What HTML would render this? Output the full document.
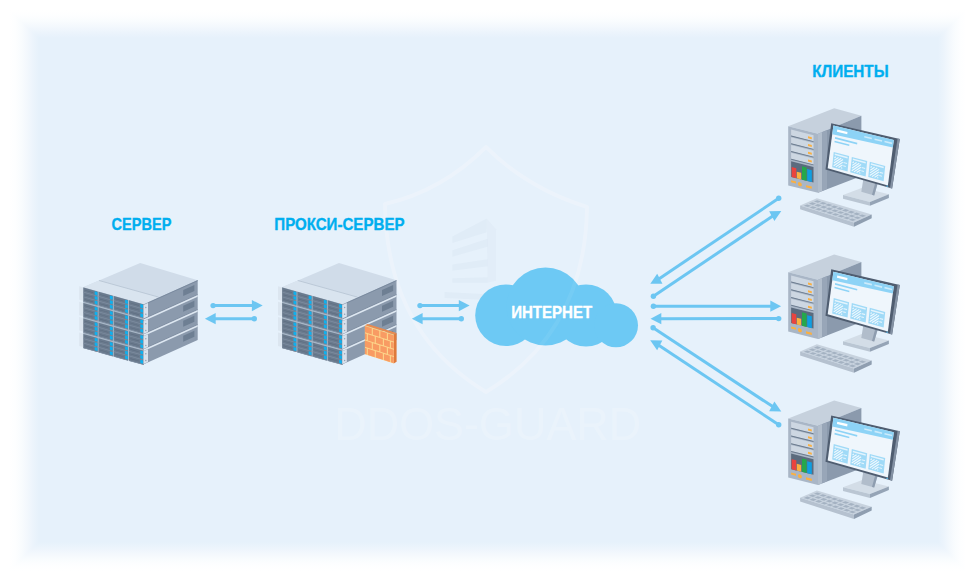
<!DOCTYPE html>
<html lang="ru"><head><meta charset="utf-8"><title>Прокси-сервер</title>
<style>html,body{margin:0;padding:0;background:#fff;}body{width:980px;height:582px;overflow:hidden;font-family:"Liberation Sans",sans-serif;}svg{display:block;}</style>
</head><body>
<svg width="980" height="582" viewBox="0 0 980 582">
<defs>
<linearGradient id="gl" x1="0" x2="1" y1="0" y2="0"><stop offset="0" stop-color="#FFFFFF"/><stop offset="0.2" stop-color="#FDFEFF"/><stop offset="0.4" stop-color="#F9FCFE"/><stop offset="0.6" stop-color="#F3F8FD"/><stop offset="0.8" stop-color="#ECF4FC"/><stop offset="1" stop-color="#E6F1FB"/></linearGradient>
<linearGradient id="gr" x1="1" x2="0" y1="0" y2="0"><stop offset="0" stop-color="#FFFFFF"/><stop offset="0.2" stop-color="#FDFEFF"/><stop offset="0.4" stop-color="#F9FCFE"/><stop offset="0.6" stop-color="#F3F8FD"/><stop offset="0.8" stop-color="#ECF4FC"/><stop offset="1" stop-color="#E6F1FB"/></linearGradient>
<linearGradient id="gt" x1="0" x2="0" y1="0" y2="1"><stop offset="0" stop-color="#FFFFFF"/><stop offset="0.2" stop-color="#FDFEFF"/><stop offset="0.4" stop-color="#F9FCFE"/><stop offset="0.6" stop-color="#F3F8FD"/><stop offset="0.8" stop-color="#ECF4FC"/><stop offset="1" stop-color="#E6F1FB"/></linearGradient>
<linearGradient id="gb" x1="0" x2="0" y1="1" y2="0"><stop offset="0" stop-color="#FFFFFF"/><stop offset="0.2" stop-color="#FDFEFF"/><stop offset="0.4" stop-color="#F9FCFE"/><stop offset="0.6" stop-color="#F3F8FD"/><stop offset="0.8" stop-color="#ECF4FC"/><stop offset="1" stop-color="#E6F1FB"/></linearGradient>
</defs>
<rect x="0" y="0" width="980" height="582" fill="#fff"/>
<rect x="38.5" y="37.5" width="900" height="505" fill="#E6F1FB"/>
<polygon points="9,9.2 39,37.2 39,542.8 9,571.8" fill="url(#gl)"/>
<polygon points="966,9.2 938,37.2 938,542.8 966,571.8" fill="url(#gr)"/>
<polygon points="9,10 966,10 938,38 39,38" fill="url(#gt)"/>
<polygon points="9,571 966,571 938,542 39,542" fill="url(#gb)"/>
<g fill="none" stroke="rgba(255,255,255,0.20)" stroke-width="4" stroke-linejoin="round">
<path d="M486 147 C 455 178 420 196 385 204 C 386 290 420 352 486 392 C 552 352 586 290 587 207 C 552 196 517 178 486 147 Z"/>
</g>
<polygon points="452.34,236.43 486.7,218.56 486.7,232.3 452.34,242.96" fill="rgba(70,100,135,0.032)"/>
<polygon points="452.34,250.17 487.56,238.66 487.56,246.74 452.34,256.7" fill="rgba(70,100,135,0.032)"/>
<polygon points="452.34,264.6 487.56,259.28 487.56,266.32 452.34,270.79" fill="rgba(70,100,135,0.032)"/>
<polygon points="452.34,278.18 487.56,277.32 487.56,282.82 452.34,282.82" fill="rgba(70,100,135,0.032)"/>
<polygon points="444.6,291.92 487.56,294.16 487.56,300 444.6,297.94" fill="rgba(70,100,135,0.032)"/>
<polygon points="486.7,218.56 496.15,229.21 496.15,280.76 487.56,282.82" fill="rgba(70,100,135,0.022)"/>
<text x="334" y="440" font-family="Liberation Sans, sans-serif" font-size="46" fill="rgba(255,255,255,0.20)" textLength="307" lengthAdjust="spacingAndGlyphs">DDOS-GUARD</text>
<defs><g id="rack"><polygon points="83.2,287.2 140.2,263 197.7,280.26 143.8,304.3" fill="#D0DCE9"/>
<polygon points="83.2,287.2 99,280.5 158.3,297 143.8,304.3" fill="#D9E4EF"/>
<line x1="99" y1="280.5" x2="158.3" y2="297" stroke="#B5C3D2" stroke-width="0.8"/>
<polygon points="79.2,286.2 83.2,287.2 83.2,300.7 79.2,299.7" fill="#DCE6F0"/>
<polygon points="79.2,301.65 83.2,302.65 83.2,316.15 79.2,315.15" fill="#DCE6F0"/>
<polygon points="79.2,317.1 83.2,318.1 83.2,331.6 79.2,330.6" fill="#DCE6F0"/>
<polygon points="79.2,332.55 83.2,333.55 83.2,347.05 79.2,346.05" fill="#DCE6F0"/>
<g transform="matrix(1,0.28,0,1,83.2,287.2)">
<rect x="0" y="0" width="60.6" height="60.7" fill="#A9B8C8"/>
<rect x="0.2" y="0.3" width="14.2" height="13.8" fill="#6B7B8E"/>
<rect x="0.2" y="4.6" width="14.2" height="0.7" fill="#7E8EA1"/>
<rect x="1.5" y="2.3" width="8.5" height="0.6" fill="#5D6D80"/>
<rect x="11.5" y="0.9" width="2.8" height="3.3" fill="#10B0EE"/>
<rect x="0.2" y="9.22" width="14.2" height="0.7" fill="#7E8EA1"/>
<rect x="1.5" y="6.92" width="8.5" height="0.6" fill="#5D6D80"/>
<rect x="11.5" y="5.52" width="2.8" height="3.3" fill="#10B0EE"/>
<rect x="0.2" y="13.84" width="14.2" height="0.7" fill="#7E8EA1"/>
<rect x="1.5" y="11.54" width="8.5" height="0.6" fill="#5D6D80"/>
<rect x="11.5" y="10.14" width="2.8" height="3.3" fill="#10B0EE"/>
<rect x="15.4" y="0.3" width="14.2" height="13.8" fill="#6B7B8E"/>
<rect x="15.4" y="4.6" width="14.2" height="0.7" fill="#7E8EA1"/>
<rect x="16.7" y="2.3" width="8.5" height="0.6" fill="#5D6D80"/>
<rect x="26.7" y="0.9" width="2.8" height="3.3" fill="#10B0EE"/>
<rect x="15.4" y="9.22" width="14.2" height="0.7" fill="#7E8EA1"/>
<rect x="16.7" y="6.92" width="8.5" height="0.6" fill="#5D6D80"/>
<rect x="26.7" y="5.52" width="2.8" height="3.3" fill="#10B0EE"/>
<rect x="15.4" y="13.84" width="14.2" height="0.7" fill="#7E8EA1"/>
<rect x="16.7" y="11.54" width="8.5" height="0.6" fill="#5D6D80"/>
<rect x="26.7" y="10.14" width="2.8" height="3.3" fill="#10B0EE"/>
<rect x="30.6" y="0.3" width="14.2" height="13.8" fill="#6B7B8E"/>
<rect x="30.6" y="4.6" width="14.2" height="0.7" fill="#7E8EA1"/>
<rect x="31.9" y="2.3" width="8.5" height="0.6" fill="#5D6D80"/>
<rect x="41.9" y="0.9" width="2.8" height="3.3" fill="#10B0EE"/>
<rect x="30.6" y="9.22" width="14.2" height="0.7" fill="#7E8EA1"/>
<rect x="31.9" y="6.92" width="8.5" height="0.6" fill="#5D6D80"/>
<rect x="41.9" y="5.52" width="2.8" height="3.3" fill="#10B0EE"/>
<rect x="30.6" y="13.84" width="14.2" height="0.7" fill="#7E8EA1"/>
<rect x="31.9" y="11.54" width="8.5" height="0.6" fill="#5D6D80"/>
<rect x="41.9" y="10.14" width="2.8" height="3.3" fill="#10B0EE"/>
<rect x="45.8" y="0.3" width="14.8" height="13.8" fill="#6B7B8E"/>
<rect x="45.8" y="4.6" width="14.8" height="0.7" fill="#7E8EA1"/>
<rect x="47.1" y="2.3" width="8.5" height="0.6" fill="#5D6D80"/>
<rect x="57.1" y="0.9" width="2.8" height="3.3" fill="#10B0EE"/>
<rect x="45.8" y="9.22" width="14.8" height="0.7" fill="#7E8EA1"/>
<rect x="47.1" y="6.92" width="8.5" height="0.6" fill="#5D6D80"/>
<rect x="57.1" y="5.52" width="2.8" height="3.3" fill="#10B0EE"/>
<rect x="45.8" y="13.84" width="14.8" height="0.7" fill="#7E8EA1"/>
<rect x="47.1" y="11.54" width="8.5" height="0.6" fill="#5D6D80"/>
<rect x="57.1" y="10.14" width="2.8" height="3.3" fill="#10B0EE"/>
<rect x="0.2" y="15.75" width="14.2" height="13.8" fill="#6B7B8E"/>
<rect x="0.2" y="20.05" width="14.2" height="0.7" fill="#7E8EA1"/>
<rect x="1.5" y="17.75" width="8.5" height="0.6" fill="#5D6D80"/>
<rect x="11.5" y="16.35" width="2.8" height="3.3" fill="#10B0EE"/>
<rect x="0.2" y="24.67" width="14.2" height="0.7" fill="#7E8EA1"/>
<rect x="1.5" y="22.37" width="8.5" height="0.6" fill="#5D6D80"/>
<rect x="11.5" y="20.97" width="2.8" height="3.3" fill="#10B0EE"/>
<rect x="0.2" y="29.29" width="14.2" height="0.7" fill="#7E8EA1"/>
<rect x="1.5" y="26.99" width="8.5" height="0.6" fill="#5D6D80"/>
<rect x="11.5" y="25.59" width="2.8" height="3.3" fill="#10B0EE"/>
<rect x="15.4" y="15.75" width="14.2" height="13.8" fill="#6B7B8E"/>
<rect x="15.4" y="20.05" width="14.2" height="0.7" fill="#7E8EA1"/>
<rect x="16.7" y="17.75" width="8.5" height="0.6" fill="#5D6D80"/>
<rect x="26.7" y="16.35" width="2.8" height="3.3" fill="#10B0EE"/>
<rect x="15.4" y="24.67" width="14.2" height="0.7" fill="#7E8EA1"/>
<rect x="16.7" y="22.37" width="8.5" height="0.6" fill="#5D6D80"/>
<rect x="26.7" y="20.97" width="2.8" height="3.3" fill="#10B0EE"/>
<rect x="15.4" y="29.29" width="14.2" height="0.7" fill="#7E8EA1"/>
<rect x="16.7" y="26.99" width="8.5" height="0.6" fill="#5D6D80"/>
<rect x="26.7" y="25.59" width="2.8" height="3.3" fill="#10B0EE"/>
<rect x="30.6" y="15.75" width="14.2" height="13.8" fill="#6B7B8E"/>
<rect x="30.6" y="20.05" width="14.2" height="0.7" fill="#7E8EA1"/>
<rect x="31.9" y="17.75" width="8.5" height="0.6" fill="#5D6D80"/>
<rect x="41.9" y="16.35" width="2.8" height="3.3" fill="#10B0EE"/>
<rect x="30.6" y="24.67" width="14.2" height="0.7" fill="#7E8EA1"/>
<rect x="31.9" y="22.37" width="8.5" height="0.6" fill="#5D6D80"/>
<rect x="41.9" y="20.97" width="2.8" height="3.3" fill="#10B0EE"/>
<rect x="30.6" y="29.29" width="14.2" height="0.7" fill="#7E8EA1"/>
<rect x="31.9" y="26.99" width="8.5" height="0.6" fill="#5D6D80"/>
<rect x="41.9" y="25.59" width="2.8" height="3.3" fill="#10B0EE"/>
<rect x="45.8" y="15.75" width="14.8" height="13.8" fill="#6B7B8E"/>
<rect x="45.8" y="20.05" width="14.8" height="0.7" fill="#7E8EA1"/>
<rect x="47.1" y="17.75" width="8.5" height="0.6" fill="#5D6D80"/>
<rect x="57.1" y="16.35" width="2.8" height="3.3" fill="#10B0EE"/>
<rect x="45.8" y="24.67" width="14.8" height="0.7" fill="#7E8EA1"/>
<rect x="47.1" y="22.37" width="8.5" height="0.6" fill="#5D6D80"/>
<rect x="57.1" y="20.97" width="2.8" height="3.3" fill="#10B0EE"/>
<rect x="45.8" y="29.29" width="14.8" height="0.7" fill="#7E8EA1"/>
<rect x="47.1" y="26.99" width="8.5" height="0.6" fill="#5D6D80"/>
<rect x="57.1" y="25.59" width="2.8" height="3.3" fill="#10B0EE"/>
<rect x="0.2" y="31.2" width="14.2" height="13.8" fill="#6B7B8E"/>
<rect x="0.2" y="35.5" width="14.2" height="0.7" fill="#7E8EA1"/>
<rect x="1.5" y="33.2" width="8.5" height="0.6" fill="#5D6D80"/>
<rect x="11.5" y="31.8" width="2.8" height="3.3" fill="#10B0EE"/>
<rect x="0.2" y="40.12" width="14.2" height="0.7" fill="#7E8EA1"/>
<rect x="1.5" y="37.82" width="8.5" height="0.6" fill="#5D6D80"/>
<rect x="11.5" y="36.42" width="2.8" height="3.3" fill="#10B0EE"/>
<rect x="0.2" y="44.74" width="14.2" height="0.7" fill="#7E8EA1"/>
<rect x="1.5" y="42.44" width="8.5" height="0.6" fill="#5D6D80"/>
<rect x="11.5" y="41.04" width="2.8" height="3.3" fill="#10B0EE"/>
<rect x="15.4" y="31.2" width="14.2" height="13.8" fill="#6B7B8E"/>
<rect x="15.4" y="35.5" width="14.2" height="0.7" fill="#7E8EA1"/>
<rect x="16.7" y="33.2" width="8.5" height="0.6" fill="#5D6D80"/>
<rect x="26.7" y="31.8" width="2.8" height="3.3" fill="#10B0EE"/>
<rect x="15.4" y="40.12" width="14.2" height="0.7" fill="#7E8EA1"/>
<rect x="16.7" y="37.82" width="8.5" height="0.6" fill="#5D6D80"/>
<rect x="26.7" y="36.42" width="2.8" height="3.3" fill="#10B0EE"/>
<rect x="15.4" y="44.74" width="14.2" height="0.7" fill="#7E8EA1"/>
<rect x="16.7" y="42.44" width="8.5" height="0.6" fill="#5D6D80"/>
<rect x="26.7" y="41.04" width="2.8" height="3.3" fill="#10B0EE"/>
<rect x="30.6" y="31.2" width="14.2" height="13.8" fill="#6B7B8E"/>
<rect x="30.6" y="35.5" width="14.2" height="0.7" fill="#7E8EA1"/>
<rect x="31.9" y="33.2" width="8.5" height="0.6" fill="#5D6D80"/>
<rect x="41.9" y="31.8" width="2.8" height="3.3" fill="#10B0EE"/>
<rect x="30.6" y="40.12" width="14.2" height="0.7" fill="#7E8EA1"/>
<rect x="31.9" y="37.82" width="8.5" height="0.6" fill="#5D6D80"/>
<rect x="41.9" y="36.42" width="2.8" height="3.3" fill="#10B0EE"/>
<rect x="30.6" y="44.74" width="14.2" height="0.7" fill="#7E8EA1"/>
<rect x="31.9" y="42.44" width="8.5" height="0.6" fill="#5D6D80"/>
<rect x="41.9" y="41.04" width="2.8" height="3.3" fill="#10B0EE"/>
<rect x="45.8" y="31.2" width="14.8" height="13.8" fill="#6B7B8E"/>
<rect x="45.8" y="35.5" width="14.8" height="0.7" fill="#7E8EA1"/>
<rect x="47.1" y="33.2" width="8.5" height="0.6" fill="#5D6D80"/>
<rect x="57.1" y="31.8" width="2.8" height="3.3" fill="#10B0EE"/>
<rect x="45.8" y="40.12" width="14.8" height="0.7" fill="#7E8EA1"/>
<rect x="47.1" y="37.82" width="8.5" height="0.6" fill="#5D6D80"/>
<rect x="57.1" y="36.42" width="2.8" height="3.3" fill="#10B0EE"/>
<rect x="45.8" y="44.74" width="14.8" height="0.7" fill="#7E8EA1"/>
<rect x="47.1" y="42.44" width="8.5" height="0.6" fill="#5D6D80"/>
<rect x="57.1" y="41.04" width="2.8" height="3.3" fill="#10B0EE"/>
<rect x="0.2" y="46.65" width="14.2" height="14.05" fill="#6B7B8E"/>
<rect x="0.2" y="50.95" width="14.2" height="0.7" fill="#7E8EA1"/>
<rect x="1.5" y="48.65" width="8.5" height="0.6" fill="#5D6D80"/>
<rect x="11.5" y="47.25" width="2.8" height="3.3" fill="#10B0EE"/>
<rect x="0.2" y="55.57" width="14.2" height="0.7" fill="#7E8EA1"/>
<rect x="1.5" y="53.27" width="8.5" height="0.6" fill="#5D6D80"/>
<rect x="11.5" y="51.87" width="2.8" height="3.3" fill="#10B0EE"/>
<rect x="0.2" y="60.19" width="14.2" height="0.7" fill="#7E8EA1"/>
<rect x="1.5" y="57.89" width="8.5" height="0.6" fill="#5D6D80"/>
<rect x="11.5" y="56.49" width="2.8" height="3.3" fill="#10B0EE"/>
<rect x="15.4" y="46.65" width="14.2" height="14.05" fill="#6B7B8E"/>
<rect x="15.4" y="50.95" width="14.2" height="0.7" fill="#7E8EA1"/>
<rect x="16.7" y="48.65" width="8.5" height="0.6" fill="#5D6D80"/>
<rect x="26.7" y="47.25" width="2.8" height="3.3" fill="#10B0EE"/>
<rect x="15.4" y="55.57" width="14.2" height="0.7" fill="#7E8EA1"/>
<rect x="16.7" y="53.27" width="8.5" height="0.6" fill="#5D6D80"/>
<rect x="26.7" y="51.87" width="2.8" height="3.3" fill="#10B0EE"/>
<rect x="15.4" y="60.19" width="14.2" height="0.7" fill="#7E8EA1"/>
<rect x="16.7" y="57.89" width="8.5" height="0.6" fill="#5D6D80"/>
<rect x="26.7" y="56.49" width="2.8" height="3.3" fill="#10B0EE"/>
<rect x="30.6" y="46.65" width="14.2" height="14.05" fill="#6B7B8E"/>
<rect x="30.6" y="50.95" width="14.2" height="0.7" fill="#7E8EA1"/>
<rect x="31.9" y="48.65" width="8.5" height="0.6" fill="#5D6D80"/>
<rect x="41.9" y="47.25" width="2.8" height="3.3" fill="#10B0EE"/>
<rect x="30.6" y="55.57" width="14.2" height="0.7" fill="#7E8EA1"/>
<rect x="31.9" y="53.27" width="8.5" height="0.6" fill="#5D6D80"/>
<rect x="41.9" y="51.87" width="2.8" height="3.3" fill="#10B0EE"/>
<rect x="30.6" y="60.19" width="14.2" height="0.7" fill="#7E8EA1"/>
<rect x="31.9" y="57.89" width="8.5" height="0.6" fill="#5D6D80"/>
<rect x="41.9" y="56.49" width="2.8" height="3.3" fill="#10B0EE"/>
<rect x="45.8" y="46.65" width="14.8" height="14.05" fill="#6B7B8E"/>
<rect x="45.8" y="50.95" width="14.8" height="0.7" fill="#7E8EA1"/>
<rect x="47.1" y="48.65" width="8.5" height="0.6" fill="#5D6D80"/>
<rect x="57.1" y="47.25" width="2.8" height="3.3" fill="#10B0EE"/>
<rect x="45.8" y="55.57" width="14.8" height="0.7" fill="#7E8EA1"/>
<rect x="47.1" y="53.27" width="8.5" height="0.6" fill="#5D6D80"/>
<rect x="57.1" y="51.87" width="2.8" height="3.3" fill="#10B0EE"/>
<rect x="45.8" y="60.19" width="14.8" height="0.7" fill="#7E8EA1"/>
<rect x="47.1" y="57.89" width="8.5" height="0.6" fill="#5D6D80"/>
<rect x="57.1" y="56.49" width="2.8" height="3.3" fill="#10B0EE"/>
</g>
<g transform="matrix(1,-0.45,0,1,143.8,304.3)">
<rect x="0" y="0" width="53.9" height="60" fill="#8B9AAD"/>
<rect x="39.4" y="3.5" width="11.2" height="6" fill="#6E7F93"/>
<rect x="0" y="14.1" width="53.9" height="0.9" fill="#7B8A9E"/>
<rect x="0" y="15" width="53.9" height="1.7" fill="#DDE7F1"/>
<rect x="39.4" y="19.1" width="11.2" height="6" fill="#6E7F93"/>
<rect x="0" y="29.1" width="53.9" height="0.9" fill="#7B8A9E"/>
<rect x="0" y="30" width="53.9" height="1.7" fill="#DDE7F1"/>
<rect x="39.4" y="34.1" width="11.2" height="6" fill="#6E7F93"/>
<rect x="0" y="44.1" width="53.9" height="0.9" fill="#7B8A9E"/>
<rect x="0" y="45" width="53.9" height="1.7" fill="#DDE7F1"/>
<rect x="39.4" y="49.1" width="11.2" height="6" fill="#6E7F93"/>
</g>
<line x1="148" y1="302.83" x2="197.7" y2="280.66" stroke="#75859A" stroke-width="0.8"/>
<polygon points="143.5,305 148,303 148,316.6 143.5,318.6" fill="#D8E1EC"/>
<circle cx="145.8" cy="307.4" r="0.75" fill="#94A2B3"/>
<circle cx="145.8" cy="314.2" r="0.75" fill="#94A2B3"/>
<polygon points="143.5,321.3 148,319.3 148,332 143.5,334" fill="#D8E1EC"/>
<circle cx="145.8" cy="323.7" r="0.75" fill="#94A2B3"/>
<circle cx="145.8" cy="330.5" r="0.75" fill="#94A2B3"/>
<polygon points="143.5,336.3 148,334.3 148,347 143.5,349" fill="#D8E1EC"/>
<circle cx="145.8" cy="338.7" r="0.75" fill="#94A2B3"/>
<circle cx="145.8" cy="345.5" r="0.75" fill="#94A2B3"/>
<polygon points="143.5,351.3 148,349.3 148,362 143.5,364" fill="#D8E1EC"/>
<circle cx="145.8" cy="353.7" r="0.75" fill="#94A2B3"/>
<circle cx="145.8" cy="360.5" r="0.75" fill="#94A2B3"/></g><g id="pc"><polygon points="788.2,126.2 834.2,108.3 861.4,115.8 818,133.65" fill="#C6D1DD"/>
<polygon points="818,133.65 861.4,115.8 861.4,176 818,192.85" fill="#8B9AAD"/>
<polygon points="818,133.65 822.3,131.9 822.3,191.05 818,192.85" fill="#B2BECC"/>
<polygon points="822.3,131.9 827,129.95 827,188.95 822.3,191.05" fill="#98A6B8"/>
<g transform="matrix(1,0.25,0,1,788.2,126.2)">
<rect x="0" y="0" width="29.8" height="59.2" fill="#A9B6C6"/>
<rect x="2.9" y="2.6" width="22.4" height="6" fill="#CDD7E2"/>
<rect x="2.9" y="8.6" width="22.4" height="0.9" fill="#6A7A8D"/>
<rect x="19.8" y="5.2" width="3.8" height="2" fill="#FBB040"/>
<rect x="2.9" y="10.35" width="22.4" height="6" fill="#CDD7E2"/>
<rect x="2.9" y="16.35" width="22.4" height="0.9" fill="#6A7A8D"/>
<rect x="19.8" y="12.95" width="3.8" height="2" fill="#FBB040"/>
<rect x="2.9" y="18.1" width="22.4" height="6" fill="#CDD7E2"/>
<rect x="2.9" y="24.1" width="22.4" height="0.9" fill="#6A7A8D"/>
<rect x="19.8" y="20.7" width="3.8" height="2" fill="#FBB040"/>
<rect x="2.9" y="25.85" width="22.4" height="6" fill="#CDD7E2"/>
<rect x="2.9" y="31.85" width="22.4" height="0.9" fill="#6A7A8D"/>
<rect x="19.8" y="28.45" width="3.8" height="2" fill="#FBB040"/>
<rect x="2.9" y="34.4" width="22.4" height="15.6" fill="#5B6B7E"/>
<rect x="3.5" y="39.9" width="4.6" height="10.1" fill="#EA433E"/>
<rect x="8.6" y="43.3" width="4.4" height="6.7" fill="#FBB040"/>
<rect x="13.8" y="36.6" width="4.6" height="13.4" fill="#25A84B"/>
<rect x="19" y="38.1" width="4.6" height="11.9" fill="#0F9FE2"/>
<rect x="2.9" y="53.4" width="4.9" height="2" fill="#FBB040"/>
<circle cx="11.7" cy="55" r="2" fill="#FBB040"/>
<rect x="17.8" y="54.5" width="5.8" height="2.2" fill="#FBB040"/>
</g>
<polygon points="843,195.1 862.3,187.7 888.9,194.3 870,201.9" fill="#D3DDE7"/>
<polygon points="843,195.1 870,201.9 870,205.7 843,198.7" fill="#BAC6D3"/>
<polygon points="870,201.9 888.9,194.3 888.9,197.9 870,205.7" fill="#95A4B6"/>
<polygon points="863.2,180 877.6,183.6 874.2,195.4 861.3,191.8" fill="#B1BDCB"/>
<polygon points="875.2,183 877.6,183.6 874.2,195.4 872,194.8" fill="#8E9DAF"/>
<polygon points="831.2,123.2 899.8,139 892.1,188.5 825.5,169.6" fill="#4F5D70"/>
<polygon points="897.6,138.5 899.8,139 892.1,188.5 890,187.9" fill="#8492A4"/>
<polygon points="833.4,125.6 893.8,140.1 887.9,185.4 827.7,168.2" fill="#EFF6FC"/>
<polygon points="833.4,125.6 893.8,140.1 892.8,147.5 832.3,134.2" fill="#8DD3F6"/>
<g transform="matrix(0.6035,0.1435,-0.058,0.4395,833.4,125.6)">
<rect x="7" y="6.5" width="17" height="5.2" fill="#fff"/>
<rect x="52" y="6.6" width="12.5" height="3.6" fill="#CDEBFB"/>
<rect x="69" y="6.6" width="12.5" height="3.6" fill="#CDEBFB"/>
<rect x="85.5" y="6.6" width="12.5" height="3.6" fill="#CDEBFB"/>
</g>
<g transform="matrix(0.6155,0.1615,-0.0625,0.4395,833.4,125.6)">
<rect x="5.3" y="24" width="36" height="3.8" fill="#8DD3F6"/>
<rect x="5.3" y="32.3" width="24" height="3.6" fill="#8DD3F6"/>
</g>
<g transform="matrix(1,0.272,-0.1,1,833.7,151.9)">
<rect x="0" y="0" width="15.4" height="15.4" fill="#A0DAF7"/>
<rect x="1.3" y="1.3" width="12.8" height="1.5" fill="#E4F4FD"/>
<path d="M1.3 5.4L2.5 4.2M1.3 8.1L5.2 4.2M1.3 10.8L7.9 4.2M1.3 13.5L9.8 5M3.5 14L9.8 7.7M6.2 14L9.8 10.4M8.9 14L9.8 13.1" stroke="#EEF8FE" stroke-width="1.05" fill="none"/>
<rect x="10.6" y="7.2" width="3.5" height="1.1" fill="#E4F4FD"/>
<rect x="10.6" y="10.4" width="2.6" height="1.1" fill="#E4F4FD"/>
</g>
<g transform="matrix(1,0.272,-0.1,1,851.8,156.9)">
<rect x="0" y="0" width="15.4" height="15.4" fill="#A0DAF7"/>
<rect x="1.3" y="1.3" width="12.8" height="1.5" fill="#E4F4FD"/>
<path d="M1.3 5.4L2.5 4.2M1.3 8.1L5.2 4.2M1.3 10.8L7.9 4.2M1.3 13.5L9.8 5M3.5 14L9.8 7.7M6.2 14L9.8 10.4M8.9 14L9.8 13.1" stroke="#EEF8FE" stroke-width="1.05" fill="none"/>
<rect x="10.6" y="7.2" width="3.5" height="1.1" fill="#E4F4FD"/>
<rect x="10.6" y="10.4" width="2.6" height="1.1" fill="#E4F4FD"/>
</g>
<g transform="matrix(1,0.272,-0.1,1,869.8,161.7)">
<rect x="0" y="0" width="15.4" height="15.4" fill="#A0DAF7"/>
<rect x="1.3" y="1.3" width="12.8" height="1.5" fill="#E4F4FD"/>
<path d="M1.3 5.4L2.5 4.2M1.3 8.1L5.2 4.2M1.3 10.8L7.9 4.2M1.3 13.5L9.8 5M3.5 14L9.8 7.7M6.2 14L9.8 10.4M8.9 14L9.8 13.1" stroke="#EEF8FE" stroke-width="1.05" fill="none"/>
<rect x="10.6" y="7.2" width="3.5" height="1.1" fill="#E4F4FD"/>
<rect x="10.6" y="10.4" width="2.6" height="1.1" fill="#E4F4FD"/>
</g>
<rect x="886.4" y="185.6" width="1.4" height="1.2" fill="#55BDEF"/>
<polygon points="800.1,205.5 816.9,198.2 871.7,214.5 854,222.4" fill="#C7D2DE"/>
<polygon points="800.1,205.5 854,222.4 854,226.7 800.1,209.3" fill="#B5C1CF"/>
<polygon points="854,222.4 871.7,214.5 871.7,218.3 854,226.7" fill="#8F9EB0"/>
<g transform="matrix(0.54,0.17,0.17,-0.07,800.1,205.5)" fill="#A4B2C2">
<rect x="4.5" y="8" width="7.4" height="19"/>
<rect x="14.9" y="8" width="7.4" height="19"/>
<rect x="25.3" y="8" width="7.4" height="19"/>
<rect x="35.7" y="8" width="7.4" height="19"/>
<rect x="46.1" y="8" width="7.4" height="19"/>
<rect x="56.5" y="8" width="7.4" height="19"/>
<rect x="66.9" y="8" width="7.4" height="19"/>
<rect x="77.3" y="8" width="7.4" height="19"/>
<rect x="87.7" y="8" width="7.4" height="19"/>
<rect x="4.5" y="37.5" width="7.4" height="19"/>
<rect x="14.9" y="37.5" width="7.4" height="19"/>
<rect x="25.3" y="37.5" width="7.4" height="19"/>
<rect x="35.7" y="37.5" width="7.4" height="19"/>
<rect x="46.1" y="37.5" width="7.4" height="19"/>
<rect x="56.5" y="37.5" width="7.4" height="19"/>
<rect x="66.9" y="37.5" width="7.4" height="19"/>
<rect x="77.3" y="37.5" width="7.4" height="19"/>
<rect x="87.7" y="37.5" width="7.4" height="19"/>
<rect x="4.5" y="67" width="7.4" height="19"/>
<rect x="14.9" y="67" width="7.4" height="19"/>
<rect x="25.3" y="67" width="7.4" height="19"/>
<rect x="35.7" y="67" width="7.4" height="19"/>
<rect x="46.1" y="67" width="7.4" height="19"/>
<rect x="56.5" y="67" width="7.4" height="19"/>
<rect x="66.9" y="67" width="7.4" height="19"/>
<rect x="77.3" y="67" width="7.4" height="19"/>
<rect x="87.7" y="67" width="7.4" height="19"/>
</g></g></defs>
<use href="#rack"/>
<use href="#rack" transform="translate(198.8,0)"/>
<polygon points="364.9,325.2 367.7,323.9 396.6,333.12 393.8,334.42" fill="#E98B50"/>
<polygon points="393.8,334.42 396.6,333.12 396.6,361.82 393.8,363.42" fill="#DF7A3B"/>
<g transform="matrix(1,0.32,0,1,364.9,325.2)">
<rect x="0" y="0" width="28.9" height="29" fill="#FCD58B"/>
<rect x="0" y="0.9" width="6.85" height="6.15" fill="#F89B63"/>
<rect x="7.95" y="0.9" width="6.4" height="6.15" fill="#F89B63"/>
<rect x="15.45" y="0.9" width="6.5" height="6.15" fill="#F89B63"/>
<rect x="23.05" y="0.9" width="5.85" height="6.15" fill="#F89B63"/>
<rect x="0" y="8.15" width="1.85" height="6.15" fill="#F89B63"/>
<rect x="2.95" y="8.15" width="6.9" height="6.15" fill="#F89B63"/>
<rect x="10.95" y="8.15" width="7" height="6.15" fill="#F89B63"/>
<rect x="19.05" y="8.15" width="5.9" height="6.15" fill="#F89B63"/>
<rect x="26.05" y="8.15" width="2.85" height="6.15" fill="#F89B63"/>
<rect x="0" y="15.4" width="6.85" height="6.15" fill="#F89B63"/>
<rect x="7.95" y="15.4" width="6.4" height="6.15" fill="#F89B63"/>
<rect x="15.45" y="15.4" width="6.5" height="6.15" fill="#F89B63"/>
<rect x="23.05" y="15.4" width="5.85" height="6.15" fill="#F89B63"/>
<rect x="0" y="22.65" width="1.85" height="6.15" fill="#F89B63"/>
<rect x="2.95" y="22.65" width="6.9" height="6.15" fill="#F89B63"/>
<rect x="10.95" y="22.65" width="7" height="6.15" fill="#F89B63"/>
<rect x="19.05" y="22.65" width="5.9" height="6.15" fill="#F89B63"/>
<rect x="26.05" y="22.65" width="2.85" height="6.15" fill="#F89B63"/>
</g>
<line x1="213.1" y1="305.6" x2="254.7" y2="305.6" stroke="#6CC6F2" stroke-width="3"/>
<circle cx="213.1" cy="305.6" r="2.7" fill="#6CC6F2"/>
<polygon points="262.7,305.6 251.9,311.2 251.9,300" fill="#6CC6F2"/>
<line x1="254.3" y1="318.7" x2="212.9" y2="318.7" stroke="#6CC6F2" stroke-width="3"/>
<circle cx="254.3" cy="318.7" r="2.7" fill="#6CC6F2"/>
<polygon points="204.9,318.7 215.7,313.1 215.7,324.3" fill="#6CC6F2"/>
<line x1="420" y1="305.6" x2="461.6" y2="305.6" stroke="#6CC6F2" stroke-width="3"/>
<circle cx="420" cy="305.6" r="2.7" fill="#6CC6F2"/>
<polygon points="469.6,305.6 458.8,311.2 458.8,300" fill="#6CC6F2"/>
<line x1="461.3" y1="318.7" x2="419.8" y2="318.7" stroke="#6CC6F2" stroke-width="3"/>
<circle cx="461.3" cy="318.7" r="2.7" fill="#6CC6F2"/>
<polygon points="411.8,318.7 422.6,313.1 422.6,324.3" fill="#6CC6F2"/>
<line x1="778.7" y1="198.3" x2="656.21" y2="280.66" stroke="#6CC6F2" stroke-width="3"/>
<circle cx="778.7" cy="198.3" r="2.7" fill="#6CC6F2"/>
<polygon points="650.3,283.8 657.21,273.79 662.46,283.67" fill="#6CC6F2"/>
<line x1="653.4" y1="296.2" x2="775.39" y2="214.24" stroke="#6CC6F2" stroke-width="3"/>
<circle cx="653.4" cy="296.2" r="2.7" fill="#6CC6F2"/>
<polygon points="781.3,211.1 774.39,221.11 769.14,211.23" fill="#6CC6F2"/>
<line x1="653.4" y1="306.3" x2="773.1" y2="306.21" stroke="#6CC6F2" stroke-width="3"/>
<circle cx="653.4" cy="306.3" r="2.7" fill="#6CC6F2"/>
<polygon points="781.1,306.2 770.3,311.81 770.3,300.61" fill="#6CC6F2"/>
<line x1="778.7" y1="318.6" x2="658.5" y2="318.69" stroke="#6CC6F2" stroke-width="3"/>
<circle cx="778.7" cy="318.6" r="2.7" fill="#6CC6F2"/>
<polygon points="650.5,318.7 661.3,313.09 661.3,324.29" fill="#6CC6F2"/>
<line x1="653.1" y1="327.7" x2="775.39" y2="408.36" stroke="#6CC6F2" stroke-width="3"/>
<circle cx="653.1" cy="327.7" r="2.7" fill="#6CC6F2"/>
<polygon points="781.3,411.5 769.14,411.37 774.39,401.49" fill="#6CC6F2"/>
<line x1="778.7" y1="424.8" x2="656.11" y2="343.44" stroke="#6CC6F2" stroke-width="3"/>
<circle cx="778.7" cy="424.8" r="2.7" fill="#6CC6F2"/>
<polygon points="650.2,340.3 662.36,340.43 657.11,350.31" fill="#6CC6F2"/>
<g fill="#6DC9F4">
<circle cx="506" cy="315.2" r="30.8"/>
<circle cx="545.5" cy="306.5" r="39"/>
<circle cx="586" cy="315.5" r="31"/>
<circle cx="616" cy="325.3" r="22"/>
</g>
<use href="#pc"/>
<use href="#pc" transform="translate(0,146.1)"/>
<use href="#pc" transform="translate(0,292.2)"/>
<text x="111.6" y="230.1" font-family="Liberation Sans, sans-serif" font-weight="bold" stroke-width="0.35" stroke-linejoin="round" font-size="17.0" fill="#00AEEF" stroke="#00AEEF" textLength="59.8" lengthAdjust="spacingAndGlyphs">СЕРВЕР</text>
<text x="274.3" y="230.1" font-family="Liberation Sans, sans-serif" font-weight="bold" stroke-width="0.35" stroke-linejoin="round" font-size="17.0" fill="#00AEEF" stroke="#00AEEF" textLength="130.2" lengthAdjust="spacingAndGlyphs">ПРОКСИ-СЕРВЕР</text>
<text x="812.2" y="76.9" font-family="Liberation Sans, sans-serif" font-weight="bold" stroke-width="0.35" stroke-linejoin="round" font-size="17.0" fill="#00AEEF" stroke="#00AEEF" textLength="76.4" lengthAdjust="spacingAndGlyphs">КЛИЕНТЫ</text>
<text x="511.2" y="317.8" font-family="Liberation Sans, sans-serif" font-weight="bold" stroke-width="0.35" stroke-linejoin="round" font-size="16.6" fill="#fff" stroke="#fff" textLength="81" lengthAdjust="spacingAndGlyphs">ИНТЕРНЕТ</text>
<path d="M486 147 C 455 178 420 196 385 204 C 386 290 420 352 486 392 C 552 352 586 290 587 207 C 552 196 517 178 486 147 Z" fill="none" stroke="rgba(255,255,255,0.06)" stroke-width="4" stroke-linejoin="round"/>
</svg>
</body></html>
